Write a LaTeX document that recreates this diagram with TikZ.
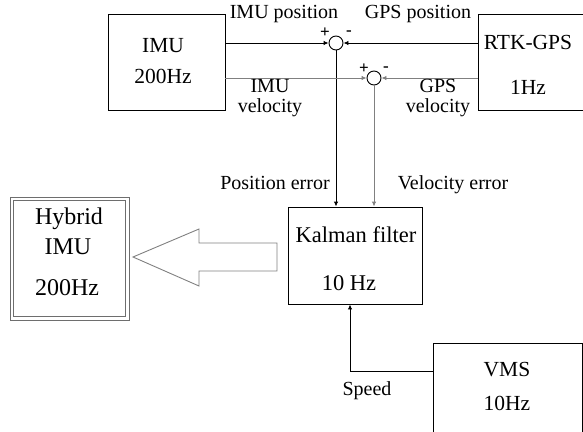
\documentclass[tikz,border=0pt]{standalone}
\usepackage{fontspec}
\setmainfont{Liberation Serif}
\usetikzlibrary{arrows.meta,calc}
\definecolor{linegray}{RGB}{128,128,128}
\definecolor{framegray}{RGB}{110,110,110}
\tikzset{
  box/.style={draw=black, line width=0.9pt, inner sep=0pt},
  frame/.style={draw=framegray, line width=1pt, inner sep=0pt},
  boxtext/.style={font=\fontsize{21.5}{23}\selectfont, inner sep=0pt, text height=1.5ex, text depth=0.3ex},
  bigtext/.style={boxtext, font=\fontsize{24}{26}\selectfont},
  lbl/.style={font=\fontsize{20}{22}\selectfont, inner sep=0pt, text height=1.5ex, text depth=0.3ex},
  sgn/.style={font=\fontsize{17}{18}\selectfont\bfseries, inner sep=0pt},
  sumnode/.style={draw=black, line width=0.9pt, circle, minimum size=14pt, inner sep=0pt},
  tip/.style={-{Latex[length=5pt,width=4.5pt]}},
  posline/.style={tip, draw=black, line width=0.9pt},
  velline/.style={tip, draw=linegray, line width=0.9pt},
}
\begin{document}
\begin{tikzpicture}[x=1pt,y=-1pt]
\useasboundingbox (0,0) rectangle (583,431);

% sensor and filter blocks
\node[box, minimum width=117pt, minimum height=96pt] (imu) at (166.5,62) {};
\node[box, minimum width=105pt, minimum height=96pt] (gps) at (530.5,62) {};
\node[box, minimum width=134pt, minimum height=97pt] (kal) at (355,255.5) {};
\node[box, minimum width=149pt, minimum height=90pt] (vms) at (507.5,388) {};
% output block with a double frame
\node[frame, minimum width=119pt, minimum height=123pt] (hyb) at (69.5,258.5) {};
\node[frame, minimum width=112pt, minimum height=116pt] (hybin) at (hyb.center) {};

% block texts
\node[boxtext] (imuA) at (163,50) {IMU};
\node[boxtext] (imuB) at (163,81) {200Hz};
\node[boxtext] (gpsA) at (528,47) {RTK-GPS};
\node[boxtext] (gpsB) at (528,92) {1Hz};
\node[boxtext, font=\fontsize{22.5}{24}\selectfont] (kalA) at (356,240) {Kalman filter};
\node[boxtext, font=\fontsize{22.5}{24}\selectfont] (kalB) at (349,288) {10 Hz};
\node[boxtext] (vmsA) at (507,374) {VMS};
\node[boxtext] (vmsB) at (507,408) {10Hz};
\node[bigtext] (hybA) at (69,222) {Hybrid};
\node[bigtext] (hybB) at (68,252) {IMU};
\node[bigtext] (hybC) at (67,293) {200Hz};

% summing junctions
\node[sumnode] (c1) at (336,43) {};
\node[sumnode] (c2) at (374,78) {};
\node[sgn] (p1) at (325,33) {+};
\node[sgn] (m1) at (349,33) {-};
\node[sgn] (p2) at (364,69) {+};
\node[sgn] (m2) at (386,69) {-};

% position signals
\draw[posline] (imu.east |- c1) -- (c1.west);
\draw[posline] (gps.west |- c1) -- (c1.east);
\draw[posline] (c1.south) -- (c1.south |- kal.north);

% velocity signals
\draw[velline] (imu.east |- c2) -- (c2.west);
\draw[velline] (gps.west |- c2) -- (c2.east);
\draw[velline] (c2.south) -- (c2.south |- kal.north);

% speed input
\coordinate (sp) at (vms.west |- 0,371);
\coordinate (kin) at ($(kal.south)+(-5,0)$);
\draw[posline] (sp) -| (kin);

% signal labels
\node[lbl] (lIP) at (284,16) {IMU position};
\node[lbl] (lGP) at (418,16) {GPS position};
\node[lbl] (lIVa) at (270,90) {IMU};
\node[lbl] (lIVb) at (270,110) {velocity};
\node[lbl] (lGVa) at (438,90) {GPS};
\node[lbl] (lGVb) at (438,110) {velocity};
\node[lbl] (lPE) at (275,187) {Position error};
\node[lbl] (lVE) at (453,187) {Velocity error};
\node[lbl] (lSP) at (367,393) {Speed};

% hollow output arrow
\draw[draw=linegray, line width=0.9pt, line join=miter]
  (277,243) -- (199,243) -- (199,229) -- (133,257) -- (199,286) -- (199,271) -- (277,271) -- cycle;
\end{tikzpicture}
\end{document}
